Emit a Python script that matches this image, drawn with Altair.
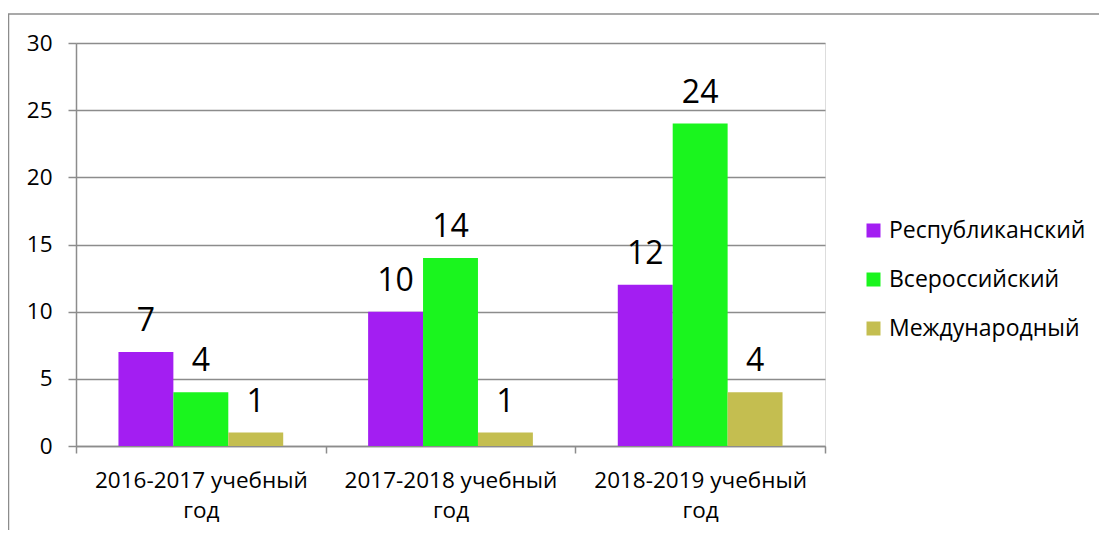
import altair as alt
import pandas as pd

categories = ["2016-2017 учебный\nгод", "2017-2018 учебный\nгод", "2018-2019 учебный\nгод"]
series = ["Республиканский", "Всероссийский", "Международный"]
values_rep = [7, 10, 12]
values_vse = [4, 14, 24]
values_mezh = [1, 1, 4]
colors = ["#A31EF2", "#1AF51E", "#C4BE50"]

rows = []
for s, vals in zip(series, [values_rep, values_vse, values_mezh]):
    for c, v in zip(categories, vals):
        rows.append({"cat": c, "series": s, "value": v})
df = pd.DataFrame(rows)

FONT = "Open Sans"
GRAY = "#8c8c8c"

x = alt.X("cat:N", sort=categories, title=None,
          scale=alt.Scale(paddingInner=0, paddingOuter=0),
          axis=alt.Axis(labelAngle=0, tickBand="extent", tickSize=7, labelPadding=16,
                        labelFontSize=22.5, labelLineHeight=30, labelColor="black",
                        labelFont=FONT, domainColor=GRAY, tickColor=GRAY, labelLimit=0,
                        domainWidth=1.5, tickWidth=1.5, grid=False,
                        labelExpr="split(datum.label, '\\n')"))
xo = alt.XOffset("series:N", sort=series,
                 scale=alt.Scale(paddingOuter=0.773, paddingInner=0))
y = alt.Y("value:Q", title=None,
          scale=alt.Scale(domain=[0, 30], nice=False),
          axis=alt.Axis(values=[0, 5, 10, 15, 20, 25, 30], grid=True, gridColor=GRAY,
                        gridWidth=1.5, tickSize=8, labelPadding=16, labelFontSize=22.5,
                        labelColor="black", labelFont=FONT, domainColor=GRAY,
                        tickColor=GRAY, domainWidth=1.5, tickWidth=1.5))

bars = alt.Chart(df).mark_bar().encode(
    x=x, xOffset=xo, y=y,
    color=alt.Color("series:N", scale=alt.Scale(domain=series, range=colors),
                    legend=alt.Legend(title=None, orient="none", legendX=786, legendY=176,
                                      symbolType="square", symbolSize=196,
                                      symbolStrokeWidth=0, labelFontSize=23,
                                      labelFont=FONT, labelColor="black", labelLimit=0,
                                      rowPadding=25, labelOffset=4, padding=0)),
)

labels = alt.Chart(df).mark_text(font=FONT, fontSize=32, color="black",
                                 baseline="alphabetic", dy=-21).encode(
    x=alt.X("cat:N", sort=categories), xOffset=alt.XOffset("series:N", sort=series),
    y="value:Q", text="value:Q")

frame_data = alt.Data(values=[{"k": 1}])
top_line = alt.Chart(frame_data).mark_rule(color=GRAY, strokeWidth=1.5).encode(
    x=alt.value(-68), x2=alt.value(1030), y=alt.value(-29))
left_line = alt.Chart(frame_data).mark_rule(color=GRAY, strokeWidth=1.5).encode(
    x=alt.value(-67.5), y=alt.value(-29), y2=alt.value(520))

chart = alt.layer(bars, labels, top_line, left_line).properties(
    width=749, height=403,
    padding={"left": 68, "top": 35, "right": 274, "bottom": 84},
    autosize=alt.AutoSizeParams(type="none"),
).configure_view(strokeWidth=0).configure(font=FONT)

chart.save("out.html", embed_options={"renderer": "svg", "actions": False})
